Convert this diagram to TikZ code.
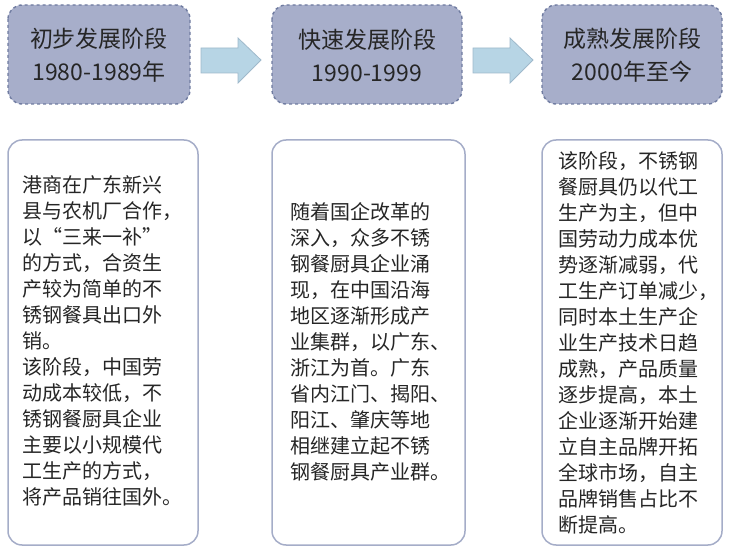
\documentclass[tikz,border=0pt]{standalone}
\usepackage{fontspec}
\setmainfont{Noto Sans CJK SC}
\begin{document}
\begin{tikzpicture}[x=1pt,y=-1pt,
  head/.style={draw=headborder,fill=headfill,dashed,line width=1.4pt,rounded corners=14pt},
  body/.style={draw=bodyborder,line width=1.5pt,rounded corners=14pt,fill=white},
  barrow/.style={draw=arrborder,fill=arrfill,line width=0.8pt},
  htext/.style={align=center,font=\fontsize{23}{33}\selectfont,text=black!85},
  btext/.style={align=left,anchor=west,inner sep=0pt,font=\fontsize{20}{26}\selectfont,text=black!85}]
\definecolor{headfill}{HTML}{A7AECA}
\definecolor{headborder}{HTML}{6F7BA0}
\definecolor{bodyborder}{HTML}{A5ADC8}
\definecolor{arrfill}{HTML}{B7D5E5}
\definecolor{arrborder}{HTML}{9FB9CB}
\useasboundingbox (0,0) rectangle (750,556);
\draw[head] (8,5) rectangle (190,104);
\draw[head] (272,5) rectangle (462,104);
\draw[head] (542,5) rectangle (722,104);
\node[htext] (h1) at (99,55) {初步发展阶段\\1980-1989年};
\node[htext] (h2) at (367,55) {快速发展阶段\\1990-1999};
\node[htext] (h3) at (632,55) {成熟发展阶段\\2000年至今};
\draw[barrow] (201,48) -- (238,48) -- (238,38) -- (261,60) -- (238,83) -- (238,73) -- (201,73) -- cycle;
\draw[barrow] (473,48) -- (510,48) -- (510,38) -- (533,60) -- (510,83) -- (510,73) -- (473,73) -- cycle;
\draw[body] (8,140) rectangle (198,545);
\draw[body] (272,140) rectangle (465,545);
\draw[body] (542,140) rectangle (722,545);
\node[btext] (b1) at (22,341) {港商在广东新兴\\县与农机厂合作，\\以“三来一补”\\的方式，合资生\\产较为简单的不\\锈钢餐具出口外\\销。\\该阶段，中国劳\\动成本较低，不\\锈钢餐厨具企业\\主要以小规模代\\工生产的方式，\\将产品销往国外。};
\node[btext] (b2) at (290,342) {随着国企改革的\\深入，众多不锈\\钢餐厨具企业涌\\现，在中国沿海\\地区逐渐形成产\\业集群，以广东、\\浙江为首。广东\\省内江门、揭阳、\\阳江、肇庆等地\\相继建立起不锈\\钢餐厨具产业群。};
\node[btext] (b3) at (558,343) {该阶段，不锈钢\\餐厨具仍以代工\\生产为主，但中\\国劳动力成本优\\势逐渐减弱，代\\工生产订单减少，\\同时本土生产企\\业生产技术日趋\\成熟，产品质量\\逐步提高，本土\\企业逐渐开始建\\立自主品牌开拓\\全球市场，自主\\品牌销售占比不\\断提高。};
\end{tikzpicture}
\end{document}
